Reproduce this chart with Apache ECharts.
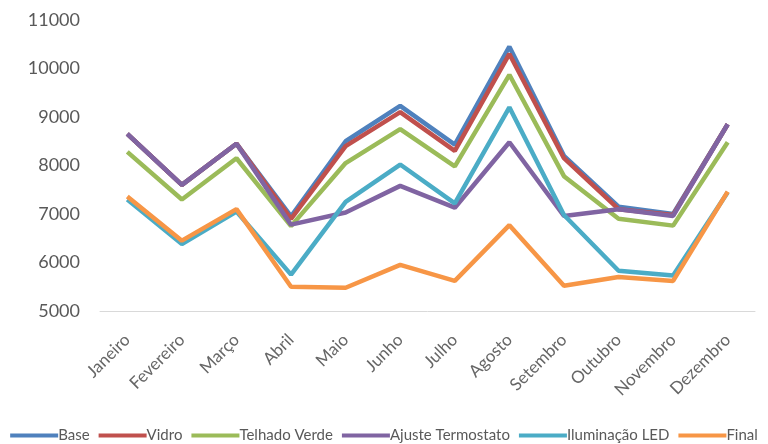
<!DOCTYPE html>
<html>
<head>
<meta charset="utf-8">
<script src="https://cdn.jsdelivr.net/npm/echarts@6/dist/echarts.min.js"></script>
<style>html,body{margin:0;padding:0;background:#fff}#c{width:768px;height:444px}</style>
</head>
<body>
<div id="c"></div>
<script>
const months = ["Janeiro","Fevereiro","Março","Abril","Maio","Junho","Julho","Agosto","Setembro","Outubro","Novembro","Dezembro"];
const seriesNames = ["Base","Vidro","Telhado Verde","Ajuste Termostato","Iluminação LED","Final"];
const base = [8650,7600,8450,6950,8500,9230,8430,10450,8200,7150,7000,8850];
const vidro = [8650,7600,8450,6900,8400,9100,8300,10300,8150,7100,6980,8850];
const telhadoVerde = [8280,7300,8150,6750,8050,8750,7980,9870,7780,6900,6760,8480];
const ajusteTermostato = [8650,7600,8450,6780,7030,7580,7130,8480,6960,7100,6960,8850];
const iluminacaoLED = [7300,6380,7050,5750,7250,8020,7220,9200,6980,5830,5730,7450];
const finalValues = [7360,6450,7100,5500,5480,5950,5620,6770,5520,5700,5620,7460];
const yTicks = [5000,6000,7000,8000,9000,10000,11000];

const colors = ["#4F81BD","#C0504D","#9BBB59","#8064A2","#4BACC6","#F79646"];
const dataSets = [base,vidro,telhadoVerde,ajusteTermostato,iluminacaoLED,finalValues];

const chart = echarts.init(document.getElementById('c'), null, {renderer:'canvas'});
chart.setOption({
  animation:false,
  color:colors,
  textStyle:{fontFamily:'Lato'},
  grid:{left:100,right:13,top:20,bottom:133,containLabel:false},
  legend:{
    bottom:-4,
    left:'center',
    icon:'rect',
    itemWidth:48,
    itemHeight:4,
    itemGap:9,
    textStyle:{fontSize:15,color:'#595959',fontFamily:'Lato',padding:[0,0,0,-5]},
    data:seriesNames
  },
  xAxis:{
    type:'category',
    data:months,
    boundaryGap:true,
    axisLine:{lineStyle:{color:'#D9D9D9',width:1}},
    axisTick:{show:false},
    axisLabel:{rotate:45,fontSize:17,color:'#666666',margin:26,interval:0}
  },
  yAxis:{
    type:'value',
    min:yTicks[0],
    max:yTicks[yTicks.length-1],
    interval:1000,
    axisLine:{show:false},
    axisTick:{show:false},
    splitLine:{show:false},
    axisLabel:{fontSize:18,color:'#595959',margin:20,formatter:v=>String(v)}
  },
  series:seriesNames.map((n,i)=>({
    name:n,
    type:'line',
    data:dataSets[i],
    showSymbol:false,
    symbol:'none',
    lineStyle:{width:4.5,color:colors[i]},
    itemStyle:{color:colors[i]}
  }))
});
</script>
</body>
</html>
